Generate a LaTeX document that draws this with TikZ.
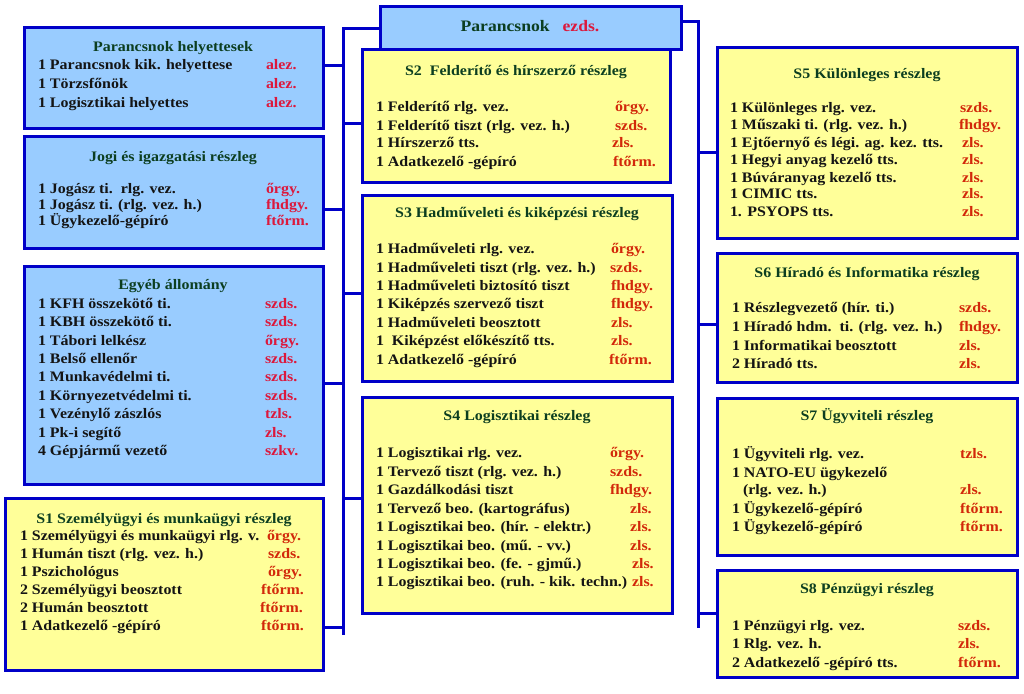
\documentclass[tikz,border=0pt]{standalone}
\usepackage{fontspec}
\setmainfont[FakeStretch=1.1]{Liberation Serif}
\definecolor{bdr}{RGB}{0,0,200}
\definecolor{bfill}{RGB}{153,204,255}
\definecolor{yfill}{RGB}{255,255,153}
\definecolor{ttl}{RGB}{12,62,32}
\definecolor{rankb}{RGB}{220,24,60}
\definecolor{ranky}{RGB}{210,40,10}
\definecolor{txt}{RGB}{20,20,20}
\newcommand\mkrow[7]{%
  \node[rowtext, anchor=base west] (#1l) at (#3,#2) {#4};
  \node[rowtext, text=#7, anchor=base west] (#1r) at (#5,#2) {#6};}
\newcommand\mkone[4]{%
  \node[rowtext, anchor=base west] (#1) at (#3,#2) {#4};}
\begin{document}
\begin{tikzpicture}[x=1pt,y=-1pt,
  every node/.style={inner sep=0pt, outer sep=0pt},
  unitbox/.style={draw=bdr, line width=3pt, anchor=north west},
  bluebox/.style={unitbox, fill=bfill},
  yelbox/.style={unitbox, fill=yfill},
  rowtext/.style={font=\bfseries\fontsize{14.5}{17}\selectfont, text=txt},
  titletext/.style={font=\bfseries\fontsize{14.5}{17}\selectfont, text=ttl, anchor=base},
  conn/.style={draw=bdr, line width=3pt}]
\useasboundingbox (0,0) rectangle (1024,693);
\fill[white] (0,0) rectangle (1024,693);

% ---------- buses ----------
\coordinate (busLtop) at (343,29);
\coordinate (busLbot) at (343,635);
\coordinate (busRtop) at (698,22);
\coordinate (busRbot) at (698,628);

% ---------- left blue boxes ----------
\node[bluebox, minimum width=299pt, minimum height=100pt] (b1) at (24,28) {};
\node[titletext] (b1t) at (173,52) {Parancsnok helyettesek};
\mkrow{b1a}{70}{38}{1 Parancsnok kik. helyettese}{266}{alez.}{rankb}
\mkrow{b1b}{88}{38}{1 Törzsfőnök}{266}{alez.}{rankb}
\mkrow{b1c}{107}{38}{1 Logisztikai helyettes}{266}{alez.}{rankb}

\node[bluebox, minimum width=299pt, minimum height=112pt] (b2) at (24,136) {};
\node[titletext] (b2t) at (173,161) {Jogi és igazgatási részleg};
\mkrow{b2a}{193}{38}{1 Jogász ti.\ \ rlg. vez.}{266}{őrgy.}{rankb}
\mkrow{b2b}{209}{38}{1 Jogász ti. (rlg. vez. h.)}{266}{fhdgy.}{rankb}
\mkrow{b2c}{225}{38}{1 Ügykezelő-gépíró}{266}{ftőrm.}{rankb}

\node[bluebox, minimum width=299pt, minimum height=218pt] (b3) at (24,266) {};
\node[titletext] (b3t) at (173,289) {Egyéb állomány};
\mkrow{b3a}{308}{38}{1 KFH összekötő ti.}{265}{szds.}{rankb}
\mkrow{b3b}{326}{38}{1 KBH összekötő ti.}{265}{szds.}{rankb}
\mkrow{b3c}{345}{38}{1 Tábori lelkész}{265}{őrgy.}{rankb}
\mkrow{b3d}{363}{38}{1 Belső ellenőr}{265}{szds.}{rankb}
\mkrow{b3e}{381}{38}{1 Munkavédelmi ti.}{265}{szds.}{rankb}
\mkrow{b3f}{400}{38}{1 Környezetvédelmi ti.}{265}{szds.}{rankb}
\mkrow{b3g}{418}{38}{1 Vezénylő zászlós}{265}{tzls.}{rankb}
\mkrow{b3h}{437}{38}{1 Pk-i segítő}{265}{zls.}{rankb}
\mkrow{b3i}{455}{38}{4 Gépjármű vezető}{265}{szkv.}{rankb}

% ---------- S1 ----------
\node[yelbox, minimum width=318pt, minimum height=172pt] (s1) at (5,498) {};
\node[titletext] (s1t) at (164,523) {S1 Személyügyi és munkaügyi részleg};
\mkrow{s1a}{540}{20}{1 Személyügyi és munkaügyi rlg. v.}{267}{őrgy.}{ranky}
\mkrow{s1b}{558}{20}{1 Humán tiszt (rlg. vez. h.)}{268}{szds.}{ranky}
\mkrow{s1c}{576}{20}{1 Pszichológus}{268}{őrgy.}{ranky}
\mkrow{s1d}{594}{20}{2 Személyügyi beosztott}{261}{ftőrm.}{ranky}
\mkrow{s1e}{612}{20}{2 Humán beosztott}{260}{ftőrm.}{ranky}
\mkrow{s1f}{630}{20}{1 Adatkezelő -gépíró}{261}{ftőrm.}{ranky}

% ---------- S2 ----------
\node[yelbox, minimum width=308pt, minimum height=132pt] (s2) at (362,50) {};
\node[titletext] (s2t) at (516,75) {S2\ \ Felderítő és hírszerző részleg};
\mkrow{s2a}{111}{376}{1 Felderítő rlg. vez.}{615}{őrgy.}{ranky}
\mkrow{s2b}{130}{376}{1 Felderítő tiszt (rlg. vez. h.)}{615}{szds.}{ranky}
\mkrow{s2c}{147}{376}{1 Hírszerző tts.}{612}{zls.}{ranky}
\mkrow{s2d}{166}{376}{1 Adatkezelő -gépíró}{613}{ftőrm.}{ranky}

% ---------- Parancsnok ----------
\node[bluebox, minimum width=301pt, minimum height=43pt] (p) at (380,7) {};
\node[font=\bfseries\fontsize{16}{19}\selectfont, anchor=base] (pt) at (530,32)
  {\textcolor{ttl}{Parancsnok}\hspace{13pt}\textcolor{rankb}{ezds.}};

% ---------- S3 ----------
\node[yelbox, minimum width=310pt, minimum height=186pt] (s3) at (362,195) {};
\node[titletext] (s3t) at (517,217) {S3 Hadműveleti és kiképzési részleg};
\mkrow{s3a}{253}{376}{1 Hadműveleti rlg. vez.}{611}{őrgy.}{ranky}
\mkrow{s3b}{272}{376}{1 Hadműveleti tiszt (rlg. vez. h.)}{610}{szds.}{ranky}
\mkrow{s3c}{290}{376}{1 Hadműveleti biztosító tiszt}{611}{fhdgy.}{ranky}
\mkrow{s3d}{308}{376}{1 Kiképzés szervező tiszt}{611}{fhdgy.}{ranky}
\mkrow{s3e}{327}{376}{1 Hadműveleti beosztott}{611}{zls.}{ranky}
\mkrow{s3f}{345}{376}{1\ \ Kiképzést előkészítő tts.}{611}{zls.}{ranky}
\mkrow{s3g}{364}{376}{1 Adatkezelő -gépíró}{609}{ftőrm.}{ranky}

% ---------- S4 ----------
\node[yelbox, minimum width=310pt, minimum height=216pt] (s4) at (362,397) {};
\node[titletext] (s4t) at (517,420) {S4 Logisztikai részleg};
\mkrow{s4a}{457}{376}{1 Logisztikai rlg. vez.}{610}{őrgy.}{ranky}
\mkrow{s4b}{476}{376}{1 Tervező tiszt (rlg. vez. h.)}{610}{szds.}{ranky}
\mkrow{s4c}{494}{376}{1 Gazdálkodási tiszt}{610}{fhdgy.}{ranky}
\mkrow{s4d}{513}{376}{1 Tervező beo. (kartográfus)}{630}{zls.}{ranky}
\mkrow{s4e}{531}{376}{1 Logisztikai beo. (hír. - elektr.)}{630}{zls.}{ranky}
\mkrow{s4f}{550}{376}{1 Logisztikai beo. (mű. - vv.)}{630}{zls.}{ranky}
\mkrow{s4g}{568}{376}{1 Logisztikai beo. (fe. - gjmű.)}{632}{zls.}{ranky}
\mkrow{s4h}{586}{376}{1 Logisztikai beo. (ruh. - kik. techn.)}{632}{zls.}{ranky}

% ---------- S5 ----------
\node[yelbox, minimum width=300pt, minimum height=190pt] (s5) at (717,48) {};
\node[titletext] (s5t) at (867,78) {S5 Különleges részleg};
\mkrow{s5a}{112}{730}{1 Különleges rlg. vez.}{960}{szds.}{ranky}
\mkrow{s5b}{129}{730}{1 Műszaki ti. (rlg. vez. h.)}{959}{fhdgy.}{ranky}
\mkrow{s5c}{147}{730}{1 Ejtőernyő és légi. ag. kez. tts.}{962}{zls.}{ranky}
\mkrow{s5d}{164}{730}{1 Hegyi anyag kezelő tts.}{962}{zls.}{ranky}
\mkrow{s5e}{182}{730}{1 Búváranyag kezelő tts.}{962}{zls.}{ranky}
\mkrow{s5f}{198}{730}{1 CIMIC tts.}{962}{zls.}{ranky}
\mkrow{s5g}{216}{730}{1. PSYOPS tts.}{962}{zls.}{ranky}

% ---------- S6 ----------
\node[yelbox, minimum width=300pt, minimum height=129pt] (s6) at (717,253) {};
\node[titletext] (s6t) at (867,277) {S6 Híradó és Informatika részleg};
\mkrow{s6a}{312}{732}{1 Részlegvezető (hír. ti.)}{959}{szds.}{ranky}
\mkrow{s6b}{331}{732}{1 Híradó hdm.\ \ ti. (rlg. vez. h.)}{959}{fhdgy.}{ranky}
\mkrow{s6c}{350}{732}{1 Informatikai beosztott}{959}{zls.}{ranky}
\mkrow{s6d}{368}{732}{2 Híradó tts.}{959}{zls.}{ranky}

% ---------- S7 ----------
\node[yelbox, minimum width=300pt, minimum height=157pt] (s7) at (717,398) {};
\node[titletext] (s7t) at (867,420) {S7 Ügyviteli részleg};
\mkrow{s7a}{458}{732}{1 Ügyviteli rlg. vez.}{960}{tzls.}{ranky}
\mkone{s7b}{477}{732}{1 NATO-EU ügykezelő}
\mkrow{s7c}{494}{743}{(rlg. vez. h.)}{960}{zls.}{ranky}
\mkrow{s7d}{513}{732}{1 Ügykezelő-gépíró}{960}{ftőrm.}{ranky}
\mkrow{s7e}{531}{732}{1 Ügykezelő-gépíró}{960}{ftőrm.}{ranky}

% ---------- S8 ----------
\node[yelbox, minimum width=300pt, minimum height=107pt] (s8) at (717,570) {};
\node[titletext] (s8t) at (867,593) {S8 Pénzügyi részleg};
\mkrow{s8a}{630}{732}{1 Pénzügyi rlg. vez.}{958}{szds.}{ranky}
\mkrow{s8b}{648}{732}{1 Rlg. vez. h.}{958}{zls.}{ranky}
\mkrow{s8c}{667}{732}{2 Adatkezelő -gépíró tts.}{958}{ftőrm.}{ranky}

% ---------- connectors ----------
\draw[conn] (p.west |- 0,29) -- (busLtop) -- (busLbot);
\draw[conn] (p.east |- 0,22) -- (busRtop) -- (busRbot);
\draw[conn] (b1.east |- 0,65) -- (busLtop |- 0,65);
\draw[conn] (b2.east |- 0,209) -- (busLtop |- 0,209);
\draw[conn] (b3.east |- 0,383) -- (busLtop |- 0,383);
\draw[conn] (s1.east |- 0,627) -- (busLtop |- 0,627);
\draw[conn] (busLtop |- 0,123) -- (s2.west |- 0,123);
\draw[conn] (busLtop |- 0,293) -- (s3.west |- 0,293);
\draw[conn] (busLtop |- 0,498) -- (s4.west |- 0,498);
\draw[conn] (busRtop |- 0,152) -- (s5.west |- 0,152);
\draw[conn] (busRtop |- 0,324) -- (s6.west |- 0,324);
\draw[conn] (busRtop |- 0,613) -- (s8.west |- 0,613);
\end{tikzpicture}
\end{document}
